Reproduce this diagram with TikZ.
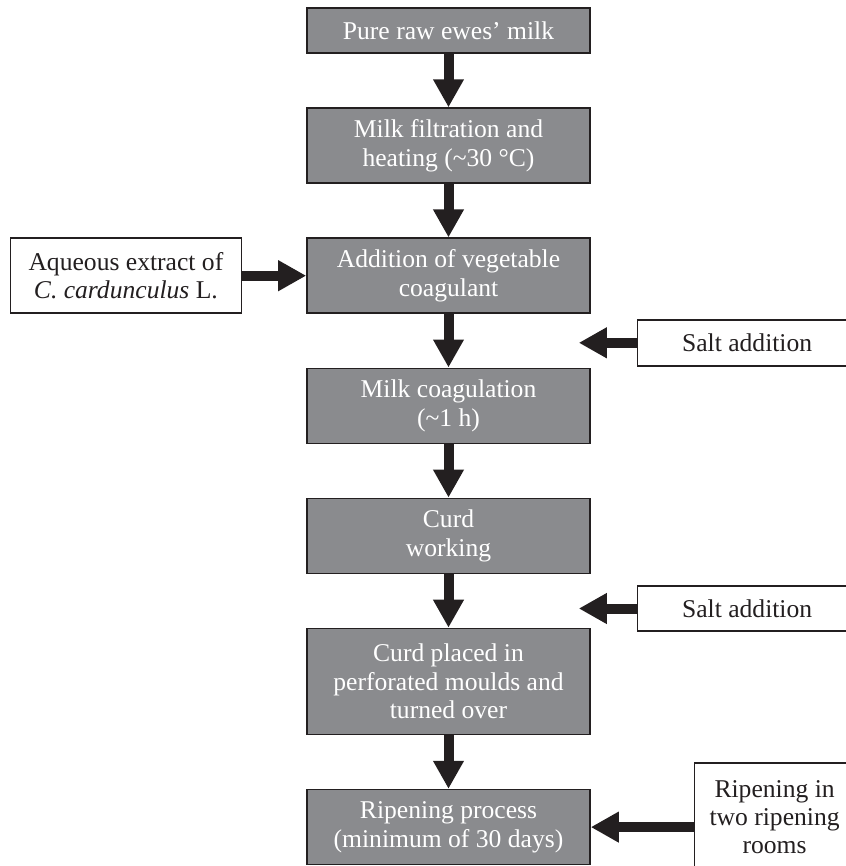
\documentclass[tikz,border=0pt]{standalone}
\usepackage{fontspec}
\setmainfont{Liberation Serif}
\usetikzlibrary{arrows.meta, positioning}

\definecolor{boxgray}{RGB}{138,139,142}
\definecolor{inkdark}{RGB}{35,31,32}

\begin{document}
\begin{tikzpicture}[
    node distance=26.75pt,
    box/.style={rectangle, draw=inkdark, line width=0.8pt, align=center, inner sep=2pt,
                font=\fontsize{12.8}{14.2}\selectfont},
    stepbox/.style={box, fill=boxgray, text=white, minimum width=141.5pt, minimum height=37.5pt},
    sidebox/.style={box, fill=white, text=inkdark},
    arr/.style={-{Triangle[length=14pt, width=14.5pt]}, line width=5pt, draw=inkdark},
]
\useasboundingbox (0,0) rectangle (422.5pt,-433pt);

% Main chain
\node[stepbox, minimum height=22.5pt] (raw) at (224.25pt,-15.25pt) {Pure raw ewes’ milk};
\node[stepbox, below=of raw] (filter) {Milk filtration and\\heating (\textasciitilde30 °C)};
\node[stepbox, below=of filter] (addcoag) {Addition of vegetable\\coagulant};
\node[stepbox, below=of addcoag] (coag) {Milk coagulation\\(\textasciitilde1 h)};
\node[stepbox, below=of coag] (curdwork) {Curd\\working};
\node[stepbox, minimum height=53pt, below=of curdwork] (moulds) {Curd placed in\\perforated moulds and\\turned over};
\node[stepbox, below=of moulds] (ripen) {Ripening process\\(minimum of 30 days)};

% Side inputs
\node[sidebox, minimum width=115.5pt, minimum height=37.5pt, left=32pt of addcoag] (extract) {Aqueous extract of\\\textit{C. cardunculus} L.};
\node[sidebox, minimum width=109.5pt, minimum height=23pt, below right=2.5pt and 23pt of addcoag] (salt1) {Salt addition};
\node[sidebox, minimum width=109.5pt, minimum height=22.5pt, below right=5.5pt and 23pt of curdwork] (salt2) {Salt addition};
\node[sidebox, minimum width=80pt, minimum height=54pt, right=51.5pt of ripen, yshift=5pt] (rooms) {Ripening in\\two ripening\\rooms};

\coordinate (salt1tip) at ([xshift=-29pt]salt1.west);
\coordinate (salt2tip) at ([xshift=-29pt]salt2.west);

% Arrows
\draw[arr] (raw) -- (filter);
\draw[arr] (filter) -- (addcoag);
\draw[arr] (addcoag) -- (coag);
\draw[arr] (coag) -- (curdwork);
\draw[arr] (curdwork) -- (moulds);
\draw[arr] (moulds) -- (ripen);

\draw[arr] (extract) -- (addcoag);
\draw[arr] (salt1.west) -- (salt1tip);
\draw[arr] (salt2.west) -- (salt2tip);
\draw[arr] (rooms.west |- ripen.east) -- (ripen.east);

\end{tikzpicture}
\end{document}
